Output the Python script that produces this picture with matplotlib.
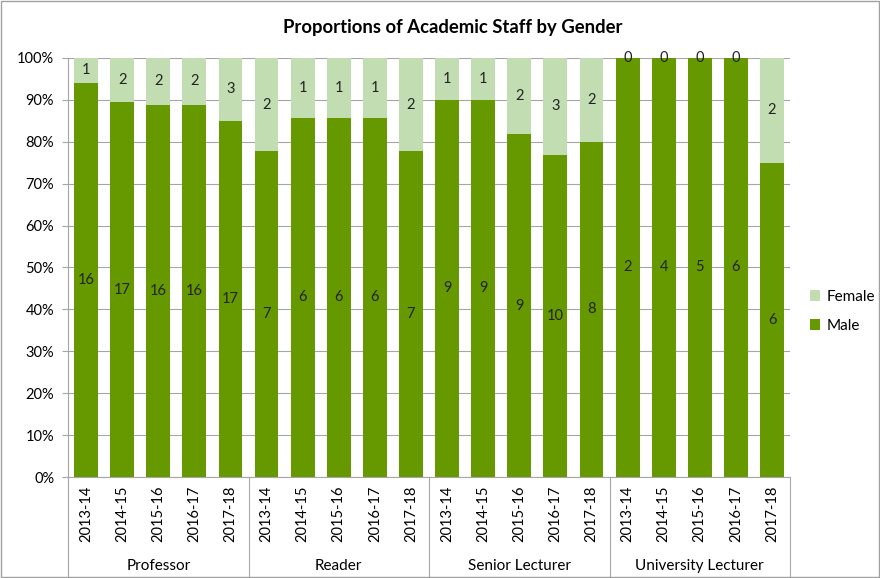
import numpy as np
import matplotlib.pyplot as plt
from matplotlib.lines import Line2D
from matplotlib.patches import Rectangle

plt.rcParams['font.family'] = ['Lato', 'DejaVu Sans']

groups = ['Professor', 'Reader', 'Senior Lecturer', 'University Lecturer']
years = ['2013-14', '2014-15', '2015-16', '2016-17', '2017-18']
male = [16, 17, 16, 16, 17,
        7, 6, 6, 6, 7,
        9, 9, 9, 10, 8,
        2, 4, 5, 6, 6]
female = [1, 2, 2, 2, 3,
          2, 1, 1, 1, 2,
          1, 1, 2, 3, 2,
          0, 0, 0, 0, 2]

male_c = '#669900'
female_c = '#c3ddb3'
grid_c = '#a6a6a6'

m = np.array(male, dtype=float)
f = np.array(female, dtype=float)
tot = m + f
mp = m / tot
fp = f / tot
x = np.arange(len(male))

fig = plt.figure(figsize=(8.8, 5.78), dpi=100)
fig.patches.append(Rectangle((0.001, 0.001), 0.998, 0.998, transform=fig.transFigure,
                             fill=False, edgecolor='#a0a0a0', linewidth=1))
ax = fig.add_axes([0.0773, 0.1747, 0.8205, 0.725])

ax.bar(x, mp, width=0.66, color=male_c, label='Male', zorder=2)
ax.bar(x, fp, width=0.66, bottom=mp, color=female_c, label='Female', zorder=2)

for i in range(len(x)):
    ax.text(x[i], mp[i] / 2, str(male[i]), ha='center', va='center', fontsize=10.5, color='#222222', zorder=3)
    ax.text(x[i], mp[i] + fp[i] / 2, str(female[i]), ha='center', va='center', fontsize=10.5,
            color='#222222', zorder=3)

ax.set_xlim(-0.5, len(x) - 0.5)
ax.set_ylim(0, 1)
ax.set_yticks(np.arange(0, 1.01, 0.1))
ax.set_yticklabels([f'{int(round(v * 100))}%' for v in np.arange(0, 1.01, 0.1)], fontsize=10.5)
ax.yaxis.grid(True, color=grid_c, linewidth=0.8, zorder=0)
ax.set_axisbelow(True)
for s in ['top', 'right']:
    ax.spines[s].set_visible(False)
ax.spines['left'].set_color(grid_c)
ax.spines['bottom'].set_color(grid_c)
ax.tick_params(axis='y', length=4, color=grid_c, pad=6)
ax.tick_params(axis='x', length=0, pad=6)

ax.set_xticks(x)
ax.set_xticklabels(years * len(groups), rotation=90, fontsize=10.5)

# group names and separators under the year labels
for g in range(len(groups) + 1):
    xb = (g * 5) / len(x)
    ax.add_line(Line2D([xb, xb], [0, -0.235], transform=ax.transAxes, color=grid_c,
                       linewidth=0.8, clip_on=False))
for g, name in enumerate(groups):
    xc = (g * 5 + 2.5) / len(x)
    ax.text(xc, -0.212, name, transform=ax.transAxes, ha='center', va='center', fontsize=11)

fig.text(0.514, 0.953, 'Proportions of Academic Staff by Gender', ha='center', va='center',
         fontsize=13.3, fontweight='bold')

h, l = ax.get_legend_handles_labels()
ax.legend(h[::-1], l[::-1], loc='center left', bbox_to_anchor=(1.008, 0.395), frameon=False,
          fontsize=11, handlelength=0.7, handleheight=0.7, handletextpad=0.4, labelspacing=1.0)

fig.savefig('out.png', dpi=100)
